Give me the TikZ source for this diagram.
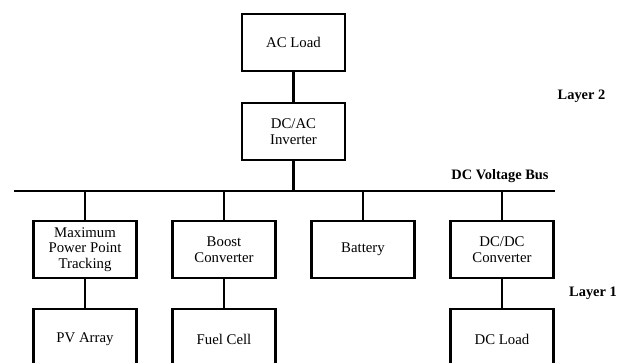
\documentclass[tikz,border=0pt]{standalone}
\usepackage{fontspec}
\setmainfont{Liberation Serif}
\begin{document}
\begin{tikzpicture}[x=1pt,y=-1pt,
  blk/.style={draw, line width=2.3pt, minimum width=103pt, minimum height=57pt, inner sep=0pt, align=center, font=\fontsize{14.8}{15.6}\selectfont},
  blkcut/.style={blk, minimum height=60pt},
  wire/.style={line width=2.3pt},
  lbl/.style={font=\bfseries\fontsize{14.4}{16}\selectfont, inner sep=0pt}]
\useasboundingbox (0,0) rectangle (627,363);
\node[blk] (acload) at (293.5,42.5) {AC Load};
\node[blk] (dcac) at (293.5,131.5) {DC/AC\\Inverter};
\coordinate (busL) at (14,191);
\coordinate (busR) at (555,191);
\node[blk] (mppt) at (85,249.5) {Maximum\\Power Point\\Tracking};
\node[blk] (boost) at (224,249.5) {Boost\\Converter};
\node[blk] (batt) at (363,249.5) {Battery};
\node[blk] (dcdc) at (502,249.5) {DC/DC\\Converter};
\node[blkcut] (pv) at (85,339) {PV Array};
\node[blkcut] (fc) at (224,339) {Fuel Cell};
\node[blkcut] (dcload) at (502,339) {DC Load};
\node[lbl] (l2) at (581.5,96) {Layer 2};
\node[lbl] (bus) at (500,176) {DC Voltage Bus};
\node[lbl] (l1) at (593,293) {Layer 1};
\draw[wire] (busL) -- (busR);
\draw[wire] (acload) -- (dcac);
\draw[wire] (dcac) -- (dcac |- busL);
\foreach \n in {mppt,boost,batt,dcdc}
  \draw[wire] (\n.north) -- (\n.north |- busL);
\draw[wire] (mppt) -- (pv);
\draw[wire] (boost) -- (fc);
\draw[wire] (dcdc) -- (dcload);
\end{tikzpicture}
\end{document}
